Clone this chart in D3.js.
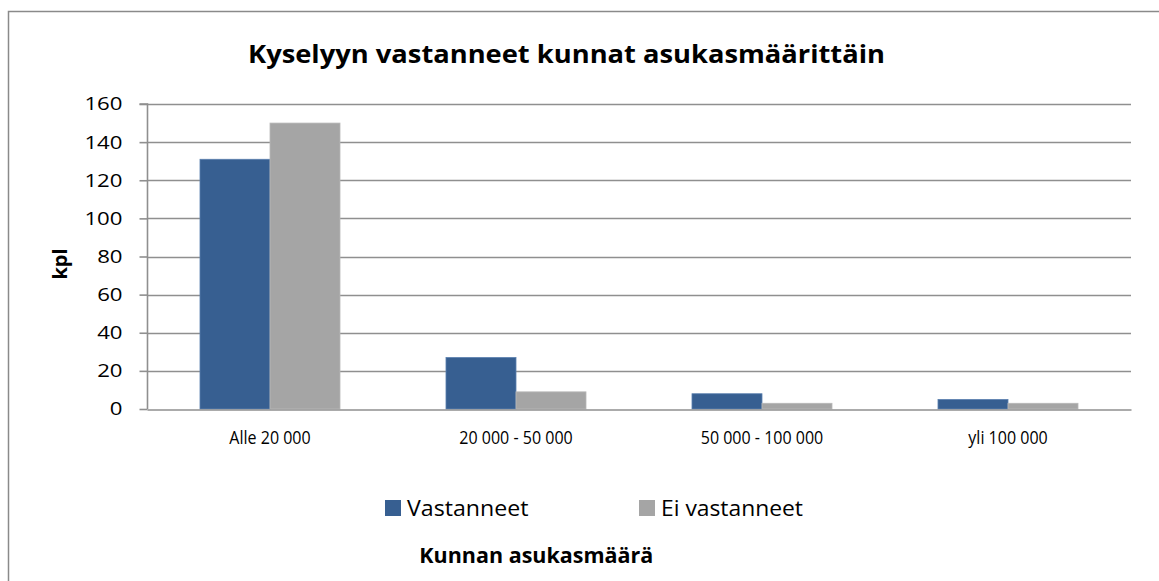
<!DOCTYPE html>
<html><head><meta charset="utf-8">
<script src="https://cdn.jsdelivr.net/npm/d3@7"></script>
<style>
html,body{margin:0;padding:0;background:#fff;}
svg{display:block;}
text{font-family:"Open Sans","Noto Sans",sans-serif;fill:#000;}
</style></head>
<body>
<script>
const categories = ["Alle 20 000", "20 000 - 50 000", "50 000 - 100 000", "yli 100 000"];
const seriesNames = ["Vastanneet", "Ei vastanneet"];
const vastanneet = [131, 27, 8, 5];
const eiVastanneet = [150, 9, 3, 3];
const yTicks = [0, 20, 40, 60, 80, 100, 120, 140, 160];
const colors = ["#375F91", "#A5A5A5"];
const titleText = "Kyselyyn vastanneet kunnat asukasmäärittäin";
const yTitle = "kpl";
const xTitle = "Kunnan asukasmäärä";

const W = 1159, H = 581;
const svg = d3.select("body").append("svg").attr("width", W).attr("height", H);

// stretch text horizontally by a factor of its natural width
function stretch(sel, f) {
  sel.each(function () {
    const w = this.getComputedTextLength();
    d3.select(this).attr("textLength", w * f).attr("lengthAdjust", "spacingAndGlyphs");
  });
}

// outer frame (right/bottom edges fall outside the window)
svg.append("rect").attr("x", 8.5).attr("y", 11.5).attr("width", 1300).attr("height", 800)
  .attr("fill", "none").attr("stroke", "#8a8a8a").attr("stroke-width", 1.5);

const plot = {left: 147, right: 1131, top: 104, bottom: 409};
const x0 = d3.scaleBand().domain(categories).range([plot.left, plot.right]).padding(0);
const x1 = d3.scaleBand().domain(seriesNames).range([0, x0.bandwidth()]).paddingInner(0).paddingOuter(0.757);
const y = d3.scaleLinear().domain([0, 160]).range([plot.bottom, plot.top]);

// gridlines
svg.append("g").selectAll("line").data(yTicks.filter(d => d > 0)).join("line")
  .attr("x1", plot.left).attr("x2", plot.right)
  .attr("y1", d => Math.round(y(d)) + 0.5).attr("y2", d => Math.round(y(d)) + 0.5)
  .attr("stroke", "#8f8f8f").attr("stroke-width", 1.6);

// bars
const data = categories.map((c, i) => ({c, vals: [vastanneet[i], eiVastanneet[i]]}));
const g = svg.append("g").selectAll("g").data(data).join("g")
  .attr("transform", d => `translate(${x0(d.c)},0)`);
g.selectAll("rect").data(d => d.vals.map((v, k) => ({k, v}))).join("rect")
  .attr("x", d => x1(seriesNames[d.k])).attr("width", x1.bandwidth())
  .attr("y", d => y(d.v)).attr("height", d => y(0) - y(d.v))
  .attr("fill", (d) => colors[d.k])
  .attr("stroke", (d) => d.k === 0 ? "#5a7fae" : "#b8b8b8").attr("stroke-width", 0.8);

// y axis
const yAxis = d3.axisLeft(y).tickValues(yTicks).tickSize(8).tickPadding(17).tickFormat(d3.format("d"));
const ya = svg.append("g").attr("transform", `translate(${plot.left + 0.5},0)`).call(yAxis);
ya.select(".domain").attr("stroke", "#8f8f8f").attr("stroke-width", 1.6).attr("d", `M-8,${y(160)}H0V${y(0)}`);
ya.selectAll(".tick line").attr("stroke", "#8f8f8f").attr("stroke-width", 1.6);
ya.selectAll(".tick text").style("font-size", "18.5px").attr("font-family", null).call(stretch, 1.2);

// x axis
const xAxis = d3.axisBottom(x0).tickSize(0).tickPadding(21.5);
const xa = svg.append("g").attr("transform", `translate(0,${plot.bottom + 0.5})`).call(xAxis);
xa.select(".domain").attr("stroke", "#8f8f8f").attr("stroke-width", 1.6);
xa.selectAll(".tick text").style("font-size", "18px").attr("font-family", null).call(stretch, 0.89);

// title
svg.append("text").attr("x", 566.5).attr("y", 63).attr("text-anchor", "middle")
  .style("font-size", "25px").style("font-weight", "bold")
  .attr("textLength", 637).attr("lengthAdjust", "spacingAndGlyphs").text(titleText);

// y title
svg.append("text").attr("transform", "translate(67,264) rotate(-90)").attr("text-anchor", "middle")
  .style("font-size", "20px").style("font-weight", "bold").text(yTitle);

// legend
const legX = [385, 639];
const legW = [121.5, 142];
const leg = svg.append("g").selectAll("g").data(seriesNames).join("g")
  .attr("transform", (d, i) => `translate(${legX[i]},500)`);
leg.append("rect").attr("width", 16).attr("height", 16).attr("fill", (d, i) => colors[i]);
leg.append("text").attr("x", 22).attr("y", 16).style("font-size", "21.5px")
  .attr("textLength", (d, i) => legW[i]).attr("lengthAdjust", "spacingAndGlyphs").text(d => d);

// x title
svg.append("text").attr("x", 536.3).attr("y", 563).attr("text-anchor", "middle")
  .style("font-size", "21px").style("font-weight", "bold")
  .attr("textLength", 234).attr("lengthAdjust", "spacingAndGlyphs").text(xTitle);
</script>
</body></html>
